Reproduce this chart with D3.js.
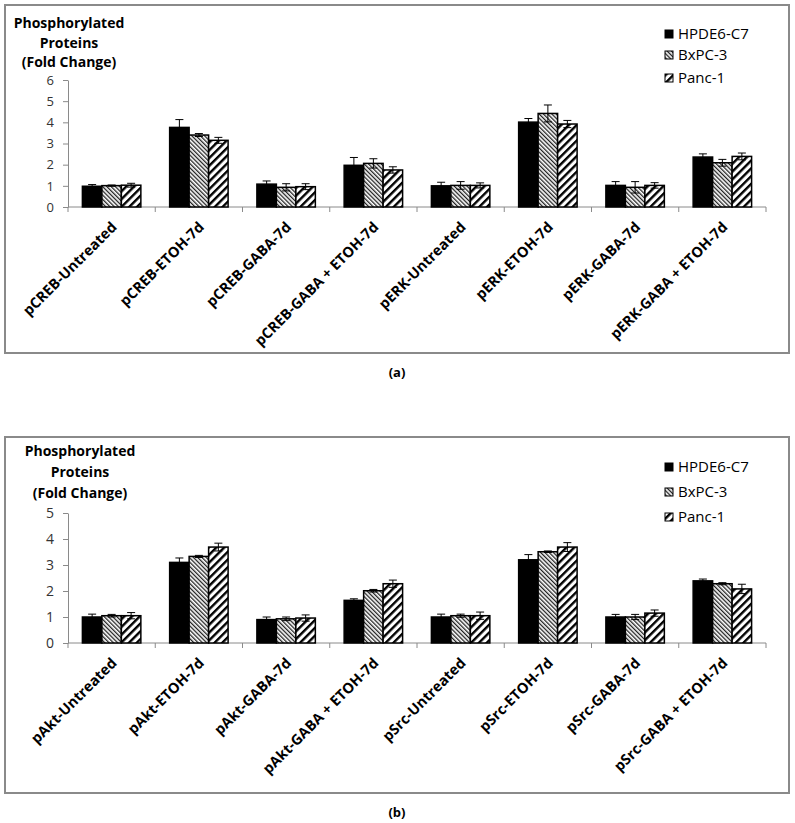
<!DOCTYPE html>
<html>
<head>
<meta charset="utf-8">
<script src="https://cdn.jsdelivr.net/npm/d3@7/dist/d3.min.js"></script>
<style>
  html, body { margin: 0; padding: 0; background: #fff; }
  svg { display: block; font-family: "Open Sans", sans-serif; }
</style>
</head>
<body>
<script>
// ---------- DATA ----------
const seriesNames = ["HPDE6-C7", "BxPC-3", "Panc-1"];

const categoriesA = ["pCREB-Untreated", "pCREB-ETOH-7d", "pCREB-GABA-7d", "pCREB-GABA + ETOH-7d",
                     "pERK-Untreated", "pERK-ETOH-7d", "pERK-GABA-7d", "pERK-GABA + ETOH-7d"];
const hpdeA = [0.98, 3.76, 1.08, 1.97, 1.00, 4.01, 1.02, 2.36];
const bxpcA = [1.01, 3.40, 0.93, 2.06, 1.02, 4.42, 0.93, 2.09];
const pancA = [1.03, 3.15, 0.96, 1.75, 1.02, 3.92, 1.02, 2.39];
const hpdeErrA = [0.08, 0.37, 0.15, 0.37, 0.17, 0.17, 0.18, 0.15];
const bxpcErrA = [0.03, 0.07, 0.17, 0.22, 0.18, 0.40, 0.27, 0.16];
const pancErrA = [0.09, 0.14, 0.14, 0.15, 0.12, 0.17, 0.13, 0.16];
const yTicksA = [0, 1, 2, 3, 4, 5, 6];

const categoriesB = ["pAkt-Untreated", "pAkt-ETOH-7d", "pAkt-GABA-7d", "pAkt-GABA + ETOH-7d",
                     "pSrc-Untreated", "pSrc-ETOH-7d", "pSrc-GABA-7d", "pSrc-GABA + ETOH-7d"];
const hpdeB = [1.00, 3.10, 0.90, 1.64, 1.00, 3.20, 1.00, 2.39];
const bxpcB = [1.05, 3.33, 0.93, 2.01, 1.05, 3.51, 1.00, 2.28];
const pancB = [1.05, 3.69, 0.96, 2.28, 1.05, 3.69, 1.15, 2.08];
const hpdeErrB = [0.11, 0.17, 0.10, 0.06, 0.11, 0.20, 0.10, 0.07];
const bxpcErrB = [0.05, 0.04, 0.07, 0.05, 0.06, 0.03, 0.10, 0.04];
const pancErrB = [0.12, 0.15, 0.12, 0.14, 0.14, 0.17, 0.12, 0.18];
const yTicksB = [0, 1, 2, 3, 4, 5];

const titleLines = ["Phosphorylated", "Proteins", "(Fold Change)"];

// ---------- DRAW ----------
const W = 795, H = 823;
const svg = d3.select("body").append("svg").attr("width", W).attr("height", H);

const defs = svg.append("defs");
// BxPC-3: fine back-slash hatch
const p1 = defs.append("pattern").attr("id", "patBx").attr("patternUnits", "userSpaceOnUse")
  .attr("width", 3).attr("height", 3).attr("patternTransform", "rotate(-45)");
p1.append("rect").attr("width", 3).attr("height", 3).attr("fill", "#fff");
p1.append("rect").attr("x", 0).attr("width", 1.3).attr("height", 3).attr("fill", "#222");
// Panc-1: wide forward-slash hatch
const p2 = defs.append("pattern").attr("id", "patPanc").attr("patternUnits", "userSpaceOnUse")
  .attr("width", 5.5).attr("height", 5.5).attr("patternTransform", "rotate(45)");
p2.append("rect").attr("width", 5.5).attr("height", 5.5).attr("fill", "#fff");
p2.append("rect").attr("x", 0).attr("width", 2.4).attr("height", 5.5).attr("fill", "#000");

const fills = ["#000", "url(#patBx)", "url(#patPanc)"];

function panel(cfg) {
  const g = svg.append("g");
  // border
  g.append("rect").attr("x", cfg.box[0]).attr("y", cfg.box[1])
    .attr("width", cfg.box[2] - cfg.box[0]).attr("height", cfg.box[3] - cfg.box[1])
    .attr("fill", "none").attr("stroke", "#8a8a8a").attr("stroke-width", 2);

  const x = d3.scaleBand().domain(cfg.cats).range([68, 766]).paddingInner(0.33).paddingOuter(0.165);
  const xs = d3.scaleBand().domain(seriesNames).range([0, x.bandwidth()]);
  const y = d3.scaleLinear().domain([0, d3.max(cfg.ticks)]).range([cfg.y0, cfg.yTop]);

  // y axis
  const ya = g.append("g").attr("transform", "translate(68,0)")
    .call(d3.axisLeft(y).tickValues(cfg.ticks).tickFormat(d3.format("d")).tickSize(5).tickSizeOuter(0).tickPadding(9));
  ya.select(".domain").attr("stroke", "#8a8a8a");
  ya.selectAll(".tick line").attr("stroke", "#8a8a8a");
  ya.selectAll(".tick text").attr("font-size", cfg.tickFont).attr("fill", "#333")
    .attr("font-family", "Open Sans, sans-serif");

  // x axis line and separators
  g.append("line").attr("x1", 68).attr("x2", 766).attr("y1", cfg.y0).attr("y2", cfg.y0)
    .attr("stroke", "#8a8a8a");
  const step = x.step();
  const bounds = cfg.cats.map(c => x(c) - (step - x.bandwidth()) / 2).concat([766]);
  g.selectAll(".sep").data(bounds).join("line")
    .attr("x1", d => d).attr("x2", d => d).attr("y1", cfg.y0).attr("y2", cfg.y0 + 5)
    .attr("stroke", "#8a8a8a");

  // bars
  const series = [cfg.s1, cfg.s2, cfg.s3];
  const errs = [cfg.e1, cfg.e2, cfg.e3];
  series.forEach((vals, si) => {
    const gg = g.append("g");
    gg.selectAll("rect").data(vals).join("rect")
      .attr("x", (d, i) => x(cfg.cats[i]) + xs(seriesNames[si]))
      .attr("y", d => y(d))
      .attr("width", xs.bandwidth())
      .attr("height", d => y(0) - y(d))
      .attr("fill", fills[si]).attr("stroke", "#000").attr("stroke-width", 1.5);
  });
  // error bars
  series.forEach((vals, si) => {
    const ge = g.append("g").attr("stroke", "#000").attr("stroke-width", 1);
    vals.forEach((v, i) => {
      const cx = x(cfg.cats[i]) + xs(seriesNames[si]) + xs.bandwidth() / 2;
      const e = errs[si][i];
      ge.append("line").attr("x1", cx).attr("x2", cx).attr("y1", y(v - e)).attr("y2", y(v + e));
      ge.append("line").attr("x1", cx - 4).attr("x2", cx + 4).attr("y1", y(v + e)).attr("y2", y(v + e));
      ge.append("line").attr("x1", cx - 4).attr("x2", cx + 4).attr("y1", y(v - e)).attr("y2", y(v - e));
    });
  });

  // category labels
  g.selectAll(".cat").data(cfg.cats).join("text")
    .attr("transform", d => `translate(${x(d) + x.bandwidth() / 2 + 6},${cfg.y0 + 21}) rotate(-45)`)
    .attr("text-anchor", "end").attr("font-size", 14.5).attr("font-weight", "bold").attr("fill", "#000")
    .text(d => d);

  // y title
  g.selectAll(".yt").data(titleLines).join("text")
    .attr("x", cfg.titleX).attr("y", (d, i) => cfg.titleY[i])
    .attr("text-anchor", "middle").attr("font-size", 14).attr("font-weight", "bold").attr("fill", "#000")
    .text(d => d);

  // legend
  seriesNames.forEach((s, i) => {
    const ly = cfg.legY[i];
    g.append("rect").attr("x", 665).attr("y", ly - 4).attr("width", 8).attr("height", 8)
      .attr("fill", fills[i]).attr("stroke", "#000").attr("stroke-width", 1);
    g.append("text").attr("x", 678).attr("y", ly).attr("dy", "0.36em")
      .attr("font-size", 15).attr("fill", "#000").text(s);
  });

  // panel label
  g.append("text").attr("x", 397).attr("y", cfg.label[1]).attr("dy", "0.36em")
    .attr("text-anchor", "middle").attr("font-size", 13).attr("font-weight", "bold").text(cfg.label[0]);
}

panel({
  box: [5, 5, 789, 353], cats: categoriesA, ticks: yTicksA, y0: 207, yTop: 80,
  s1: hpdeA, s2: bxpcA, s3: pancA, e1: hpdeErrA, e2: bxpcErrA, e3: pancErrA,
  tickFont: 13, titleX: 69, titleY: [28, 48, 67], legY: [34, 55, 78], label: ["(a)", 372]
});
panel({
  box: [5, 437, 789, 793], cats: categoriesB, ticks: yTicksB, y0: 643, yTop: 513,
  s1: hpdeB, s2: bxpcB, s3: pancB, e1: hpdeErrB, e2: bxpcErrB, e3: pancErrB,
  tickFont: 14, titleX: 80, titleY: [456, 477, 498], legY: [467, 492, 517], label: ["(b)", 812]
});
</script>
</body>
</html>
